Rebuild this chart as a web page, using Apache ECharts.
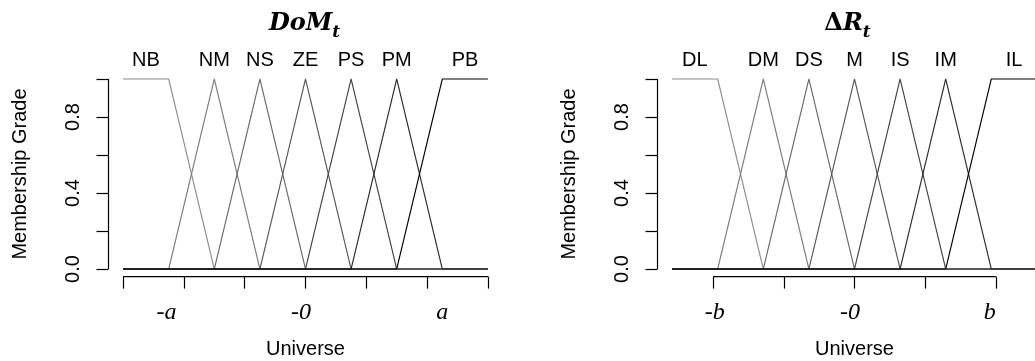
<!DOCTYPE html>
<html>
<head>
<meta charset="utf-8">
<script src="https://cdn.jsdelivr.net/npm/echarts@6/dist/echarts.min.js"></script>
<style>html,body{margin:0;padding:0;background:#fff;}#c{width:1035px;height:361px;}</style>
</head>
<body>
<div id="c"></div>
<script>
// ---- data ----
const domSets = ['NB', 'NM', 'NS', 'ZE', 'PS', 'PM', 'PB'];
const drSets = ['DL', 'DM', 'DS', 'M', 'IS', 'IM', 'IL'];
const universeX = [-12, -9, -6, -3, 0, 3, 6, 9, 12];
const domGrades = [
  [1, 1, 0, 0, 0, 0, 0, 0, 0],
  [0, 0, 1, 0, 0, 0, 0, 0, 0],
  [0, 0, 0, 1, 0, 0, 0, 0, 0],
  [0, 0, 0, 0, 1, 0, 0, 0, 0],
  [0, 0, 0, 0, 0, 1, 0, 0, 0],
  [0, 0, 0, 0, 0, 0, 1, 0, 0],
  [0, 0, 0, 0, 0, 0, 0, 1, 1]
];
const drGrades = [
  [1, 1, 0, 0, 0, 0, 0, 0, 0],
  [0, 0, 1, 0, 0, 0, 0, 0, 0],
  [0, 0, 0, 1, 0, 0, 0, 0, 0],
  [0, 0, 0, 0, 1, 0, 0, 0, 0],
  [0, 0, 0, 0, 0, 1, 0, 0, 0],
  [0, 0, 0, 0, 0, 0, 1, 0, 0],
  [0, 0, 0, 0, 0, 0, 0, 1, 1]
];
const setLabelPos = [-10.5, -6, -3, 0, 3, 6, 10.5];
const domTicks = [-12, -8, -4, 0, 4, 8, 12];
const domTickLabelPos = [-9.15, -0.3, 9];
const domTickLabels = ['-a', '-0', 'a'];
const drTicks = [-9.3, -4.65, 0, 4.65, 9.3];
const drTickLabelPos = [-9.2, -0.3, 8.9];
const drTickLabels = ['-b', '-0', 'b'];
const yTicks = [0, 0.2, 0.4, 0.6, 0.8, 1];
const yLabelPos = [0, 0.4, 0.8];
const xRange = [-12.96, 12.96];
const yRange = [-0.04, 1.04];

// ---- styles ----
const setColors = ['#8c8c8c', '#7b7b7b', '#6a6a6a', '#575757', '#434343', '#2b2b2b', '#000000'];
const sans = 'Liberation Sans, Arial, Helvetica, sans-serif';
const serif = 'Liberation Serif, Times New Roman, serif';
const grids = [
  { left: 108.5, width: 394, top: 71.4, bottom: 84.4, outerBoundsMode: 'none' },
  { left: 657.5, width: 394, top: 71.4, bottom: 84.4, outerBoundsMode: 'none' }
];

function nearestLabel(v, pos, labels) {
  let best = 0;
  for (let i = 1; i < pos.length; i++) if (Math.abs(pos[i] - v) < Math.abs(pos[best] - v)) best = i;
  return labels[best];
}

const xAxes = [], yAxes = [], series = [];
const panels = [
  { sets: domSets, grades: domGrades, ticks: domTicks, tlp: domTickLabelPos, tl: domTickLabels },
  { sets: drSets, grades: drGrades, ticks: drTicks, tlp: drTickLabelPos, tl: drTickLabels }
];
panels.forEach((p, gi) => {
  const xi = xAxes.length;
  // bottom axis: ticks + italic labels
  xAxes.push({
    type: 'value', gridIndex: gi, position: 'bottom', min: xRange[0], max: xRange[1],
    axisLine: { show: false, onZero: false }, splitLine: { show: false },
    axisTick: { show: true, inside: false, length: 12, customValues: p.ticks, lineStyle: { color: '#000', width: 1.2 } },
    axisLabel: {
      show: true, customValues: p.tlp, margin: 24,
      formatter: v => nearestLabel(v, p.tlp, p.tl),
      fontFamily: serif, fontStyle: 'italic', fontSize: 24, color: '#000'
    },
    name: 'Universe', nameLocation: 'middle', nameGap: 63,
    nameTextStyle: { fontFamily: sans, fontSize: 20, color: '#000' }
  });
  // top axis: set names
  xAxes.push({
    type: 'value', gridIndex: gi, position: 'top', min: xRange[0], max: xRange[1],
    axisLine: { show: false, onZero: false }, axisTick: { show: false }, splitLine: { show: false },
    axisLabel: {
      show: true, customValues: setLabelPos, margin: 1,
      formatter: v => nearestLabel(v, setLabelPos, p.sets),
      fontFamily: sans, fontSize: 20, color: '#000'
    }
  });
  yAxes.push({
    type: 'value', gridIndex: gi, position: 'left', min: yRange[0], max: yRange[1],
    axisLine: { show: false, onZero: false }, splitLine: { show: false },
    axisTick: { show: true, inside: false, length: 12, customValues: yTicks, lineStyle: { color: '#000', width: 1.2 } },
    axisLabel: {
      show: true, customValues: yLabelPos, rotate: 90, margin: 25,
      formatter: v => v.toFixed(1),
      fontFamily: sans, fontSize: 20, color: '#000'
    },
    name: 'Membership Grade', nameLocation: 'middle', nameGap: 78, nameRotate: 90,
    nameTextStyle: { fontFamily: sans, fontSize: 20, color: '#000' }
  });
  p.sets.forEach((s, si) => {
    series.push({
      type: 'line', name: s, xAxisIndex: xi, yAxisIndex: gi,
      data: universeX.map((x, k) => [x, p.grades[si][k]]),
      symbol: 'none', silent: true, clip: false,
      lineStyle: { color: setColors[si], width: 1.1 }
    });
  });
  // axis lines (R style: span from first to last tick)
  series.push({
    type: 'line', xAxisIndex: xi, yAxisIndex: gi, symbol: 'none', silent: true, clip: false, z: 5,
    data: [[p.ticks[0], yRange[0]], [p.ticks[p.ticks.length - 1], yRange[0]]],
    lineStyle: { color: '#000', width: 1.2 }
  });
  series.push({
    type: 'line', xAxisIndex: xi, yAxisIndex: gi, symbol: 'none', silent: true, clip: false, z: 5,
    data: [[xRange[0], yTicks[0]], [xRange[0], yTicks[yTicks.length - 1]]],
    lineStyle: { color: '#000', width: 1.2 }
  });
});

const titleRich = {
  d: { fontFamily: 'DejaVu Serif, serif', fontWeight: 'bold', fontSize: 24, lineHeight: 26, verticalAlign: 'top', color: '#000' },
  m: { fontFamily: 'DejaVu Serif, serif', fontWeight: 'bold', fontStyle: 'italic', fontSize: 24, lineHeight: 26, verticalAlign: 'top', color: '#000' },
  s: { fontFamily: 'DejaVu Serif, serif', fontWeight: 'bold', fontStyle: 'italic', fontSize: 17, lineHeight: 16, padding: [12, 0, 0, 0], verticalAlign: 'top', color: '#000' }
};

const chart = echarts.init(document.getElementById('c'), null, { renderer: 'canvas' });
chart.setOption({
  animation: false,
  backgroundColor: '#fff',
  title: [
    { text: '{m|DoM}{s|t}', left: 304.5, top: 12, padding: 0, textAlign: 'center', textStyle: { rich: titleRich } },
    { text: '{d|Δ}{m|R}{s|t}', left: 847.5, top: 12, padding: 0, textAlign: 'center', textStyle: { rich: titleRich } }
  ],
  grid: grids,
  xAxis: xAxes,
  yAxis: yAxes,
  series: series
});
</script>
</body>
</html>
